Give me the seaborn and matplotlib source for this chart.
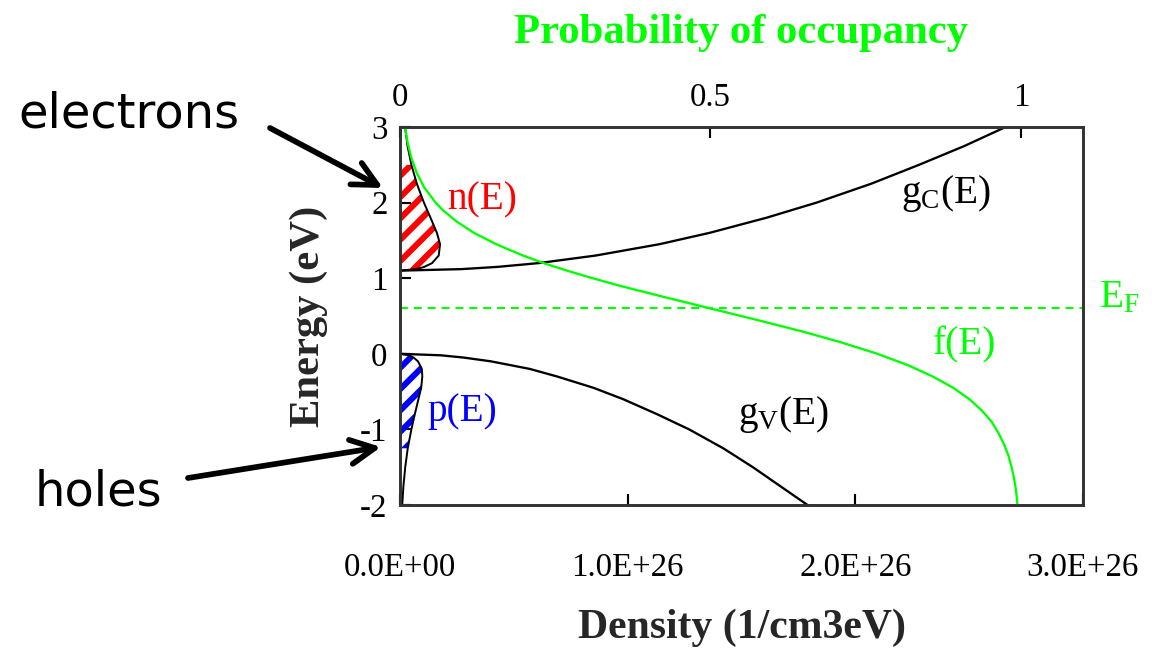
import matplotlib
matplotlib.use("Agg")
import matplotlib.pyplot as plt
import seaborn as sns
import numpy as np

# ---------------- data (density in units of 1e26 1/cm3eV) ----------------
DENS_UNIT = 1e26

# conduction band density of states g_c(E)
E_c = [1.1, 1.12, 1.15, 1.2, 1.3, 1.45, 1.6, 1.8, 2.0, 2.25, 2.5, 2.75, 3.0]
g_c = [0.0, 0.27, 0.43, 0.61, 0.86, 1.14, 1.36, 1.61, 1.83, 2.07, 2.28, 2.48, 2.66]
# electron density n(E)
n_E = [0.0, 0.072, 0.107, 0.141, 0.170, 0.176, 0.162, 0.134, 0.105, 0.074, 0.050, 0.033, 0.022]

# valence band density of states g_v(E)
E_v = [0.0, -0.02, -0.05, -0.1, -0.2, -0.3, -0.45, -0.6, -0.8, -1.0, -1.25, -1.5, -1.75, -2.0]
g_v = [0.0, 0.18, 0.28, 0.40, 0.57, 0.69, 0.85, 0.98, 1.13, 1.27, 1.42, 1.55, 1.67, 1.79]
# hole density p(E)
p_E = [0.0, 0.040, 0.060, 0.079, 0.096, 0.098, 0.093, 0.081, 0.065, 0.050, 0.034, 0.023, 0.015, 0.0098]

# probability of occupancy f(E)
E_f = [3.0, 2.8, 2.6, 2.4, 2.2, 2.0, 1.9, 1.75, 1.6, 1.45, 1.3, 1.2, 1.1, 1.0, 0.9, 0.75,
       0.6, 0.45, 0.3, 0.15, 0.0, -0.15, -0.3, -0.45, -0.6, -0.75, -0.9, -1.05, -1.2,
       -1.35, -1.5, -1.65, -1.8, -1.9, -2.0]
f_E = [0.0082, 0.0121, 0.018, 0.0266, 0.039, 0.0573, 0.069, 0.0911, 0.119, 0.155, 0.198,
       0.231, 0.269, 0.310, 0.354, 0.426, 0.5, 0.574, 0.646, 0.711, 0.769, 0.818, 0.858,
       0.891, 0.917, 0.937, 0.953, 0.964, 0.973, 0.980, 0.985, 0.989, 0.992, 0.9933, 0.9945]

E_FERMI = 0.6
N_HATCH_TOP = 2.5      # red hatch drawn up to this energy
P_HATCH_BOTTOM = -1.25  # blue hatch drawn down to this energy

x_ticks = [0.0, 1.0, 2.0, 3.0]
y_ticks = [-2, -1, 0, 1, 2, 3]
top_ticks = [0, 0.5, 1]
top_tick_labels = ["0", "0.5", "1"]

# ---------------- style ----------------
sns.set_theme(style="white")
plt.rcParams["font.family"] = ["Liberation Serif", "DejaVu Serif"]
plt.rcParams["mathtext.fontset"] = "custom"
plt.rcParams["mathtext.rm"] = "Liberation Serif"
plt.rcParams["mathtext.it"] = "Liberation Serif:italic"
plt.rcParams["mathtext.bf"] = "Liberation Serif:bold"

GREEN = "#00ff00"
DPI = 128
fig = plt.figure(figsize=(1152 / DPI, 652 / DPI), dpi=DPI)
fig.patch.set_facecolor("white")
ax = fig.add_axes([400 / 1152, 1 - 505 / 652, 683 / 1152, 378 / 652])
ax.set_facecolor("white")

dens = lambda v: np.asarray(v) * DENS_UNIT

# curves
sns.lineplot(x=dens(g_c), y=E_c, orient="y", estimator=None, ax=ax, color="black", lw=1.3)
sns.lineplot(x=dens(g_v), y=E_v, orient="y", estimator=None, ax=ax, color="black", lw=1.3)
sns.lineplot(x=dens(n_E), y=E_c, orient="y", estimator=None, ax=ax, color="black", lw=1.1)
sns.lineplot(x=dens(p_E), y=E_v, orient="y", estimator=None, ax=ax, color="black", lw=1.1)

# hatched fills
Ec_arr = np.asarray(E_c)
Ev_arr = np.asarray(E_v)
with plt.rc_context({"hatch.color": "red", "hatch.linewidth": 3.4}):
    ax.fill_betweenx(Ec_arr, 0, dens(n_E), where=Ec_arr <= N_HATCH_TOP + 1e-9,
                     facecolor="none", edgecolor="red", hatch="//", linewidth=0)
with plt.rc_context({"hatch.color": "blue", "hatch.linewidth": 3.4}):
    ax.fill_betweenx(Ev_arr, 0, dens(p_E), where=Ev_arr >= P_HATCH_BOTTOM - 1e-9,
                     facecolor="none", edgecolor="blue", hatch="//", linewidth=0)

# Fermi level
ax.axhline(E_FERMI, color=GREEN, lw=1.2, ls=(0, (3.7, 2.8)))

ax.set_xlim(0, 3 * DENS_UNIT)
ax.set_ylim(-2, 3)
ax.set_xticks(dens(x_ticks))
ax.set_xticklabels([f"{v * DENS_UNIT:.1E}" for v in x_ticks])
ax.set_yticks(y_ticks)
ax.set_yticklabels([str(v) for v in y_ticks])
ax.tick_params(axis="x", direction="in", length=6, width=1.2, pad=27, labelsize=18.5,
               colors="black", bottom=True, top=False)
ax.tick_params(axis="y", direction="in", length=6, width=1.2, pad=7, labelsize=18.5,
               colors="black", left=True, right=False)
for s in ax.spines.values():
    s.set_color("#333333")
    s.set_linewidth(1.5)
ax.set_xlabel("Density (1/cm3eV)", fontsize=23.5, fontweight="bold", labelpad=14)
ax.set_ylabel("Energy (eV)", fontsize=24, fontweight="bold", labelpad=18)

# top axis: probability
ax2 = ax.twiny()
sns.lineplot(x=f_E, y=E_f, orient="y", estimator=None, ax=ax2, color=GREEN, lw=1.3)
ax2.set_xlim(0, 1.1)
ax2.set_ylim(-2, 3)
ax2.set_xticks(top_ticks)
ax2.set_xticklabels(top_tick_labels)
ax2.tick_params(axis="x", direction="in", length=6, width=1.2, pad=8, labelsize=18.5,
                colors="black", top=True, bottom=False)
ax2.set_xlabel("Probability of occupancy", fontsize=24, fontweight="bold", color=GREEN, labelpad=22)
ax2.set_ylabel("")
for s in ax2.spines.values():
    s.set_color("#333333")
    s.set_linewidth(1.5)

# curve labels
lab = dict(fontsize=22, va="center", ha="left")
ax.text(0.205 * DENS_UNIT, 2.04, "n(E)", color="red", **lab)
ax.text(0.122 * DENS_UNIT, -0.76, "p(E)", color="blue", **lab)
ax.text(2.2 * DENS_UNIT, 2.12, r"$\mathrm{g_C(E)}$", color="black", **lab)
ax.text(1.485 * DENS_UNIT, -0.80, r"$\mathrm{g_V(E)}$", color="black", **lab)
ax.text(2.34 * DENS_UNIT, 0.12, "f(E)", color=GREEN, **lab)
ax.text(3.07 * DENS_UNIT, 0.74, r"$\mathrm{E_F}$", color=GREEN, clip_on=False, **lab)

# annotations
hand = dict(fontsize=27, color="black", family=["DejaVu Sans"])
fig.text(18 / 1152, 1 - 127 / 652, "electrons", ha="left", va="baseline", **hand)
fig.text(35 / 1152, 1 - 505 / 652, "holes", ha="left", va="baseline", **hand)
arrow = dict(arrowstyle="->", lw=3.2, color="black", mutation_scale=34, shrinkA=0, shrinkB=0)
ax.annotate("", xy=(383 / 1152, 1 - 188 / 652), xycoords="figure fraction",
            xytext=(270 / 1152, 1 - 128 / 652), textcoords="figure fraction",
            arrowprops=arrow, annotation_clip=False)
ax.annotate("", xy=(381 / 1152, 1 - 447 / 652), xycoords="figure fraction",
            xytext=(188 / 1152, 1 - 478 / 652), textcoords="figure fraction",
            arrowprops=arrow, annotation_clip=False)

fig.savefig("out.png", dpi=DPI, facecolor="white")
